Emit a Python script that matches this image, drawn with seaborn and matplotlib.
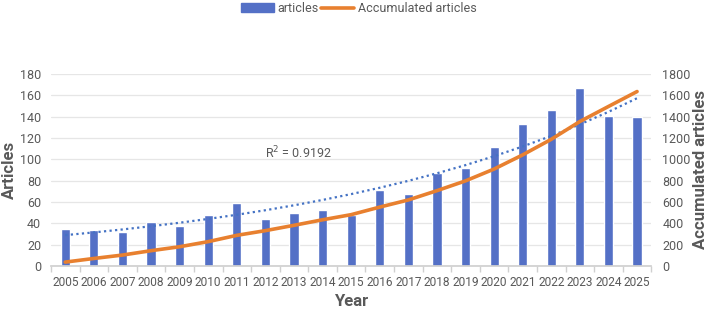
import numpy as np
import pandas as pd
import matplotlib
matplotlib.use("Agg")
import matplotlib.pyplot as plt
import seaborn as sns
from matplotlib.patches import Patch
from matplotlib.lines import Line2D
from matplotlib.ticker import MultipleLocator

# 数据
years = list(range(2005, 2026))
articles = [35, 34, 32, 41, 37, 48, 59, 44, 50, 52, 48, 71, 67, 87, 92, 111, 133, 146, 167, 141, 140]
accumulated = [35, 69, 101, 142, 179, 227, 286, 330, 380, 432, 480, 551, 618, 705, 797, 908,
               1041, 1187, 1354, 1495, 1635]

df = pd.DataFrame({"Year": [str(y) for y in years], "articles": articles, "acc": accumulated})

sns.set_theme(style="white")
plt.rcParams['font.family'] = ['Roboto', 'DejaVu Sans']
grey = "#595959"
blue = "#5470C6"
orange = "#E8802F"

fig = plt.figure(figsize=(7.08, 3.12), dpi=100)
ax = fig.add_axes([0.072, 0.148, 0.848, 0.615])

sns.barplot(data=df, x="Year", y="articles", color=blue, width=0.32, saturation=1, ax=ax)

# 指数趋势线
pos = np.arange(len(years))
b, loga = np.polyfit(pos, np.log(articles), 1)
ax.plot(pos, np.exp(loga + b * pos), color="#4472C4", linestyle=(0, (1, 1.5)), linewidth=1.6)
ax.text(8.14, 106, "R$^2$ = 0.9192", ha="center", va="center", fontsize=9, color=grey)

ax.set_ylim(0, 180)
ax.set_xlim(-0.5, len(years) - 0.5)
ax.yaxis.set_major_locator(MultipleLocator(20))
ax.grid(axis="y", color="#E6E6E6", linewidth=0.9)
ax.set_axisbelow(True)
for s in ["top", "right", "left"]:
    ax.spines[s].set_visible(False)
ax.spines["bottom"].set_color("#D0D0D0")
ax.tick_params(axis="x", length=0, labelsize=8.6, labelcolor=grey, pad=7)
ax.tick_params(axis="y", length=0, labelsize=9, labelcolor=grey, pad=7)
ax.set_xticks(pos, df["Year"])
ax.set_xticks(np.arange(-0.5, len(years)), minor=True)
ax.tick_params(axis="x", which="minor", length=4, color="#D0D0D0", bottom=True)
ax.set_xlabel("Year", fontsize=12, fontweight="bold", color=grey, labelpad=4)
ax.set_ylabel("Articles", fontsize=12, fontweight="bold", color=grey, va="center")
ax.yaxis.set_label_coords(-0.07, 0.5)

ax2 = ax.twinx()
ax2.plot(pos, accumulated, color=orange, linewidth=2.6, solid_capstyle="round")
ax2.set_ylim(0, 1800)
ax2.yaxis.set_major_locator(MultipleLocator(200))
for s in ["top", "right", "left", "bottom"]:
    ax2.spines[s].set_visible(False)
ax2.tick_params(axis="y", length=0, labelsize=9, labelcolor=grey, pad=8)
ax2.set_ylabel("Accumulated articles", fontsize=12, fontweight="bold", color=grey, rotation=90, va="center")
ax2.yaxis.set_label_coords(1.082, 0.5)
ax2.grid(False)

handles = [Patch(color=blue, label="articles"), Line2D([], [], color=orange, linewidth=2.6, label="Accumulated articles")]
fig.legend(handles=handles, loc="upper center", bbox_to_anchor=(0.507, 1.03), ncol=2, frameon=False,
           fontsize=9, labelcolor=grey, handlelength=2.6, handletextpad=0.3, columnspacing=0.2)

fig.savefig("out.png", dpi=100)
